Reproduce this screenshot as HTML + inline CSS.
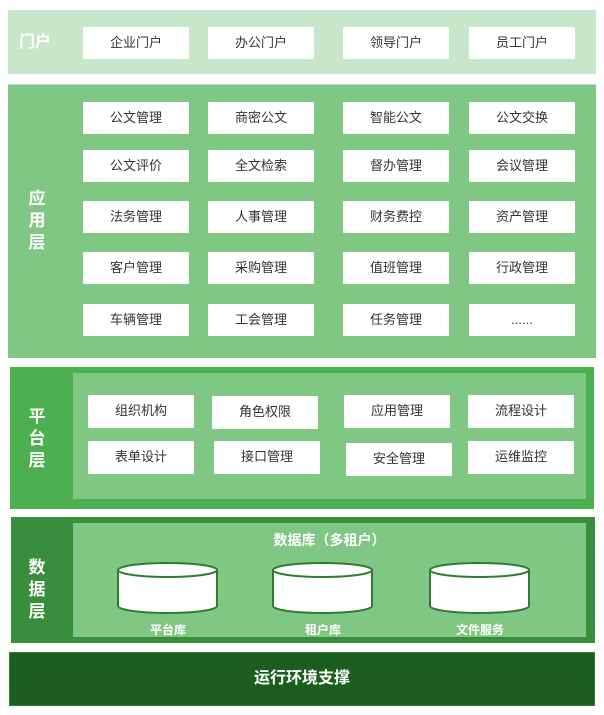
<!DOCTYPE html>
<html><head><meta charset="utf-8"><style>
body{margin:0;width:604px;height:715px;background:#fff;position:relative;font-family:"Liberation Sans","Noto Sans CJK SC",sans-serif;overflow:hidden}
div{position:absolute;box-sizing:border-box}
.b{background:#fff;color:#333;font-size:13px;text-align:center;line-height:32px;height:32px;width:106px;border-radius:1px}
.lab{color:#fff;font-weight:bold;font-size:17px;text-align:center;line-height:22px;width:30px}
.cl{color:#fff;font-weight:bold;font-size:12px;text-align:center;width:100px}
</style></head><body>
<div style="left:8px;top:10px;width:588px;height:64px;background:#c8e6c9"></div>
<div class="lab" style="left:10px;top:32px;width:50px;font-size:16px">门户</div>
<div class="b" style="left:83px;top:27px">企业门户</div>
<div class="b" style="left:208px;top:27px">办公门户</div>
<div class="b" style="left:343px;top:27px">领导门户</div>
<div class="b" style="left:469px;top:27px">员工门户</div>

<div style="left:8px;top:84px;width:588px;height:274px;background:#81c784;border-top:1px solid #b3d9f0"></div>
<div class="lab" style="left:22px;top:188px">应<br>用<br>层</div>
<div class="b" style="left:83px;top:102px">公文管理</div><div class="b" style="left:208px;top:102px">商密公文</div><div class="b" style="left:343px;top:102px">智能公文</div><div class="b" style="left:469px;top:102px">公文交换</div>
<div class="b" style="left:83px;top:150px">公文评价</div><div class="b" style="left:208px;top:150px">全文检索</div><div class="b" style="left:343px;top:150px">督办管理</div><div class="b" style="left:469px;top:150px">会议管理</div>
<div class="b" style="left:83px;top:201px">法务管理</div><div class="b" style="left:208px;top:201px">人事管理</div><div class="b" style="left:343px;top:201px">财务费控</div><div class="b" style="left:469px;top:201px">资产管理</div>
<div class="b" style="left:83px;top:252px">客户管理</div><div class="b" style="left:208px;top:252px">采购管理</div><div class="b" style="left:343px;top:252px">值班管理</div><div class="b" style="left:469px;top:252px">行政管理</div>
<div class="b" style="left:83px;top:304px">车辆管理</div><div class="b" style="left:208px;top:304px">工会管理</div><div class="b" style="left:343px;top:304px">任务管理</div><div class="b" style="left:469px;top:304px">......</div>

<div style="left:10px;top:367px;width:584px;height:142px;background:#4caf50"></div>
<div style="left:73px;top:373px;width:513px;height:126px;background:#81c784"></div>
<div class="lab" style="left:22px;top:406px">平<br>台<br>层</div>
<div class="b" style="left:88px;top:395px;height:33px">组织机构</div><div class="b" style="left:212px;top:396px;height:33px">角色权限</div><div class="b" style="left:344px;top:395px;height:33px">应用管理</div><div class="b" style="left:468px;top:395px;height:33px">流程设计</div>
<div class="b" style="left:88px;top:441px;height:33px">表单设计</div><div class="b" style="left:214px;top:441px;height:33px">接口管理</div><div class="b" style="left:346px;top:443px;height:33px">安全管理</div><div class="b" style="left:468px;top:441px;height:33px">运维监控</div>

<div style="left:11px;top:517px;width:584px;height:126px;background:#388e3c"></div>
<div style="left:73px;top:523px;width:513px;height:114px;background:#81c784"></div>
<div class="lab" style="left:22px;top:557px">数<br>据<br>层</div>
<div style="left:73px;top:530px;width:513px;text-align:center;color:#fff;font-weight:bold;font-size:14px">数据库（多租户）</div>
<svg style="position:absolute;left:0;top:0" width="604" height="715">
<g fill="#fff" stroke="#2e7d32" stroke-width="2">
<path d="M118,570 v36 a49.5,7 0 0 0 99,0 v-36"/><ellipse cx="167.5" cy="570" rx="49.5" ry="7"/>
<path d="M273,570 v36 a49.5,7 0 0 0 99,0 v-36"/><ellipse cx="322.5" cy="570" rx="49.5" ry="7"/>
<path d="M430,570 v36 a49.5,7 0 0 0 99,0 v-36"/><ellipse cx="479.5" cy="570" rx="49.5" ry="7"/>
</g></svg>
<div class="cl" style="left:118px;top:621px">平台库</div>
<div class="cl" style="left:273px;top:621px">租户库</div>
<div class="cl" style="left:430px;top:621px">文件服务</div>

<div style="left:9px;top:652px;width:586px;height:54px;background:#1b5e20;border:1px solid #2e7d32;color:#fff;font-weight:bold;font-size:16px;text-align:center;line-height:52px">运行环境支撑</div>
</body></html>
